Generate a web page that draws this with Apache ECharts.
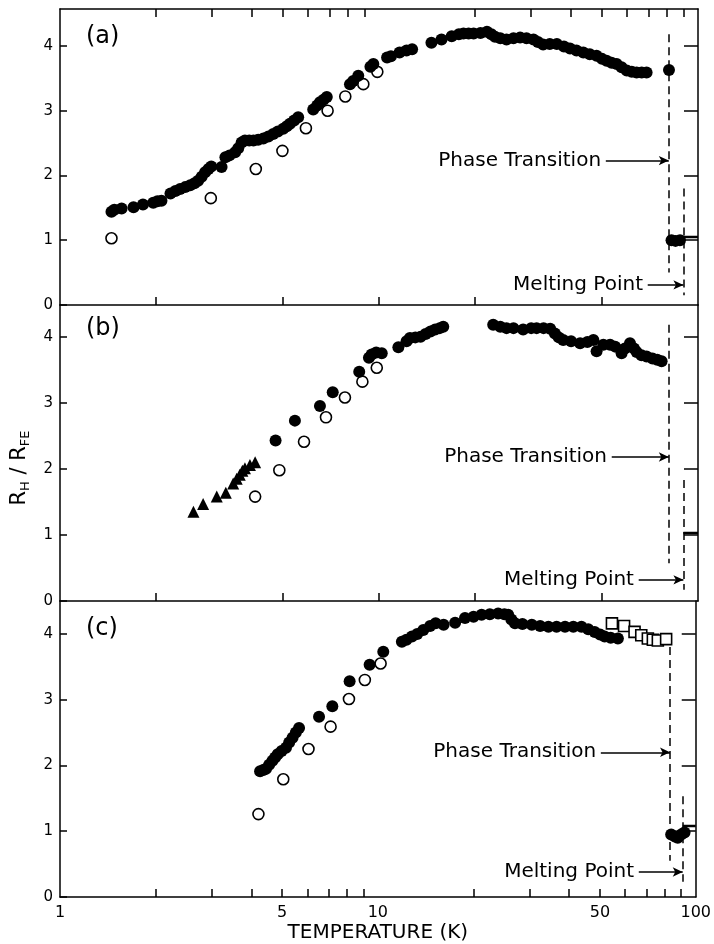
<!DOCTYPE html>
<html>
<head>
<meta charset="utf-8">
<script src="https://cdn.jsdelivr.net/npm/echarts@6/dist/echarts.min.js"></script>
</head>
<body style="margin:0;background:#fff">
<div id="main" style="width:714px;height:944px;"></div>
<script>
// ---- data: [temperature K, R_H/R_FE] ----
var aFilled = [[1.45,1.44],[1.48,1.47],[1.56,1.49],[1.70,1.51],[1.82,1.55],[1.96,1.58],[2.02,1.60],[2.08,1.61],
  [2.22,1.72],[2.30,1.76],[2.38,1.79],[2.47,1.82],[2.56,1.85],[2.64,1.88],[2.71,1.92],[2.78,1.98],[2.85,2.05],[2.92,2.10],[2.98,2.14],
  [3.21,2.13],[3.30,2.28],[3.40,2.31],[3.54,2.36],[3.62,2.42],[3.71,2.51],[3.80,2.54],[3.92,2.54],[4.04,2.54],[4.18,2.55],[4.34,2.57],
  [4.50,2.60],[4.66,2.64],[4.82,2.68],[5.01,2.72],[5.14,2.76],[5.26,2.80],[5.42,2.85],[5.58,2.90],
  [6.22,3.02],[6.40,3.08],[6.53,3.13],[6.70,3.17],[6.86,3.21],
  [8.11,3.41],[8.30,3.46],[8.61,3.54],[9.40,3.68],[9.60,3.72],
  [10.6,3.82],[10.9,3.84],[11.6,3.90],[12.2,3.93],[12.7,3.95],[14.6,4.05],[15.7,4.10],[16.9,4.15],[17.8,4.18],[18.4,4.19],
  [19.1,4.19],[19.8,4.19],[20.8,4.20],[21.8,4.22],[22.5,4.18],[23.1,4.14],[24.0,4.12],[25.1,4.10],[26.4,4.12],[27.7,4.13],
  [29.0,4.12],[30.5,4.10],[31.5,4.06],[32.7,4.02],[34.3,4.03],[36.1,4.03],[38.0,3.99],[39.7,3.96],[41.6,3.93],[43.7,3.90],
  [45.8,3.87],[48.1,3.85],[50.0,3.80],[51.7,3.77],[53.6,3.74],[55.6,3.72],[57.6,3.67],[59.8,3.62],[62.0,3.60],[64.2,3.59],
  [66.6,3.59],[69.0,3.59],[81.1,3.63],[82.6,1.00],[85.0,0.99],[87.8,1.00]];
var aOpen = [[1.45,1.03],[2.97,1.65],[4.11,2.10],[4.98,2.38],[5.90,2.73],[6.90,3.00],[7.84,3.22],[8.93,3.41],[9.88,3.60]];

var bTri = [[2.62,1.35],[2.81,1.47],[3.10,1.58],[3.31,1.64],[3.49,1.78],[3.58,1.85],[3.66,1.91],[3.73,1.97],[3.80,2.01],[3.94,2.06],[4.09,2.10]];
var bFilled = [[4.74,2.43],[5.45,2.73],[6.53,2.95],[7.16,3.16],[8.67,3.47],[9.30,3.68],[9.48,3.73],[9.80,3.76],[10.2,3.75],
  [11.5,3.84],[12.2,3.93],[12.5,3.98],[13.0,3.99],[13.5,4.00],[14.0,4.04],[14.5,4.08],[15.0,4.11],[15.5,4.13],[15.9,4.15],
  [22.8,4.18],[24.0,4.15],[25.1,4.13],[26.4,4.13],[28.3,4.11],[30.0,4.13],[31.2,4.13],[32.8,4.13],[34.4,4.12],[35.6,4.05],
  [36.6,3.99],[37.8,3.95],[40.0,3.93],[42.7,3.90],[45.0,3.92],[47.0,3.95],[48.1,3.78],[50.5,3.88],[53.0,3.88],[55.0,3.85],
  [57.6,3.75],[59.0,3.82],[61.2,3.90],[63.0,3.82],[64.2,3.77],[66.5,3.72],[69.0,3.70],[72.0,3.67],[74.5,3.65],[76.9,3.63]];
var bOpen = [[4.09,1.58],[4.87,1.98],[5.82,2.41],[6.82,2.78],[7.82,3.08],[8.87,3.32],[9.84,3.53]];

var cFilled = [[4.26,1.91],[4.36,1.93],[4.45,1.95],[4.55,2.01],[4.66,2.07],[4.75,2.12],[4.84,2.17],[4.98,2.22],[5.14,2.27],
  [5.26,2.35],[5.39,2.42],[5.52,2.50],[5.65,2.57],[6.53,2.74],[7.19,2.90],[8.15,3.28],[9.42,3.53],[10.4,3.73],
  [11.9,3.88],[12.3,3.91],[12.8,3.96],[13.3,4.00],[13.9,4.06],[14.6,4.12],[15.2,4.16],[16.1,4.14],[17.5,4.17],[18.8,4.24],
  [20.0,4.26],[21.2,4.29],[22.5,4.30],[23.9,4.31],[25.0,4.30],[25.7,4.29],[26.3,4.22],[27.0,4.16],[28.5,4.15],[30.5,4.14],
  [32.4,4.12],[34.4,4.11],[36.5,4.11],[38.8,4.11],[41.2,4.11],[43.7,4.11],[45.9,4.07],[48.1,4.03],[50.0,3.99],[51.7,3.96],
  [54.0,3.94],[56.9,3.93],[83.7,0.95],[86.0,0.92],[87.8,0.90],[90.0,0.95],[92.2,0.98]];
var cSquare = [[54.5,4.16],[59.5,4.12],[64.2,4.03],[67.4,3.98],[70.7,3.93],[73.3,3.91],[76.0,3.90],[80.7,3.92]];
var cOpen = [[4.21,1.26],[5.04,1.79],[6.05,2.25],[7.10,2.59],[8.11,3.01],[9.10,3.30],[10.2,3.55]];

// transitions per panel (a, b, c)
var phaseT = [81, 81, 83];
var meltT = [90, 90, 91];
var liquidLevel = [1.05, 1.03, 1.08];

// axis ticks
var xLabels = [1, 5, 10, 50, 100];
var xMinor = [2,3,4,5,6,7,8,9,20,30,40,50,60,70,80,90];
var xDivider = [2, 5, 10, 20, 50];
var yLabels = [0, 1, 2, 3, 4];

var ink = '#000';
var font = 'DejaVu Sans';

// ---- layout / annotations (not data) ----
var grids = [
  {left: 60, right: 16, top: 9, height: 296},
  {left: 60, right: 16, top: 305, height: 296},
  {left: 60, right: 16, top: 601, height: 297}
];
var yMax = [4.57, 4.48, 4.5];
var phaseSpan = [[4.18, 0.5], [4.18, 0.57], [4.0, 0.55]];
var meltSpan = [[1.8, 0.15], [1.83, 0.17], [1.53, 0.23]];
var phaseText = [[50.4, 2.23], [52.6, 2.18], [49.3, 2.2]];
var meltText = [[68.2, 0.31], [63.9, 0.32], [64.9, 0.38]];

var axisLine = {show: true, onZero: false, lineStyle: {color: ink, width: 1.5}};

function xAxis(gi, pos, ticks, labels, extra) {
  var ax = {
    type: 'log', logBase: 10, min: 1, max: 100, gridIndex: gi, position: pos,
    axisLine: axisLine, splitLine: {show: false}, minorTick: {show: false},
    axisTick: {show: true, inside: true, length: 8, customValues: ticks, lineStyle: {color: ink, width: 1.5}},
    axisLabel: labels ? {show: true, customValues: labels, color: ink, fontSize: 16, fontFamily: font, margin: 8}
                      : {show: false}
  };
  return Object.assign(ax, extra || {});
}

function yAxes(gi) {
  return [{
    type: 'value', min: 0, max: yMax[gi], gridIndex: gi, position: 'left',
    axisLine: axisLine, splitLine: {show: false},
    axisTick: {show: true, inside: true, length: 7, customValues: yLabels, lineStyle: {color: ink, width: 1.5}},
    axisLabel: {show: true, customValues: yLabels, color: ink, fontSize: 15, fontFamily: font, margin: 7}
  }, {
    type: 'value', min: 0, max: yMax[gi], gridIndex: gi, position: 'right',
    axisLine: axisLine, splitLine: {show: false},
    axisTick: {show: true, inside: true, length: 14, customValues: [1, 2, 3, 4], lineStyle: {color: ink, width: 1.5}},
    axisLabel: {show: false}
  }];
}

var xAxes = [
  xAxis(0, 'bottom', xDivider, null),
  xAxis(0, 'top', xMinor, null),
  xAxis(1, 'bottom', xDivider, null),
  xAxis(2, 'bottom', xMinor, xLabels, {
    name: 'TEMPERATURE (K)', nameLocation: 'middle', nameGap: 26,
    nameTextStyle: {color: ink, fontSize: 20, fontFamily: font}
  })
];
var xIdx = [0, 2, 3];

var yList = [].concat(yAxes(0), yAxes(1), yAxes(2));
yList[2].name = '{r|R}{s|H}{r| / R}{s|FE}';
yList[2].nameLocation = 'middle';
yList[2].nameRotate = 90;
yList[2].nameGap = 22;
yList[2].nameTextStyle = {
  color: ink, fontFamily: font, padding: [0, 30, 0, 0],
  rich: {
    r: {fontSize: 21, lineHeight: 26, fontFamily: font, color: ink},
    s: {fontSize: 13, lineHeight: 14, verticalAlign: 'bottom', fontFamily: font, color: ink}
  }
};

function pts(gi, data, symbol, size, hollow) {
  return {
    type: 'scatter', xAxisIndex: xIdx[gi], yAxisIndex: gi * 2, data: data,
    symbol: symbol, symbolSize: size, silent: true, z: 5,
    itemStyle: hollow ? {color: '#fff', borderColor: ink, borderWidth: 1.6, opacity: 1}
                      : {color: ink, opacity: 1}
  };
}

function annotations(gi) {
  var dash = {color: ink, width: 1.5, type: [8, 5]};
  var solid = {color: ink, width: 1.5, type: 'solid'};
  return [{
    type: 'line', xAxisIndex: xIdx[gi], yAxisIndex: gi * 2,
    data: [[meltT[gi], liquidLevel[gi]], [100, liquidLevel[gi]]],
    symbol: 'none', lineStyle: {color: ink, width: 2.5}, silent: true, z: 3,
    markLine: {
      silent: true, animation: false, label: {show: false}, symbol: ['none', 'none'],
      data: [
        [{coord: [phaseT[gi], phaseSpan[gi][0]], lineStyle: dash}, {coord: [phaseT[gi], phaseSpan[gi][1]]}],
        [{coord: [meltT[gi], meltSpan[gi][0]], lineStyle: dash}, {coord: [meltT[gi], meltSpan[gi][1]]}],
        [{coord: [phaseText[gi][0] * 1.02, phaseText[gi][1]], lineStyle: solid},
         {coord: [phaseT[gi], phaseText[gi][1]], symbol: 'arrow', symbolSize: [7, 10]}],
        [{coord: [meltText[gi][0] * 1.02, meltText[gi][1]], lineStyle: solid},
         {coord: [meltT[gi], meltText[gi][1]], symbol: 'arrow', symbolSize: [7, 10]}]
      ]
    }
  }, {
    type: 'scatter', xAxisIndex: xIdx[gi], yAxisIndex: gi * 2, symbolSize: 0, silent: true,
    itemStyle: {opacity: 1},
    data: [{value: phaseText[gi], name: 'Phase Transition'}, {value: meltText[gi], name: 'Melting Point'}],
    label: {show: true, position: 'left', distance: 2, formatter: '{b}', color: ink, fontSize: 20, fontFamily: font}
  }];
}

var series = [].concat(
  annotations(0), annotations(1), annotations(2),
  pts(0, aOpen, 'circle', 11, true), pts(0, aFilled, 'circle', 12),
  pts(1, bOpen, 'circle', 11, true), pts(1, bFilled, 'circle', 12), pts(1, bTri, 'triangle', 12),
  pts(2, cOpen, 'circle', 11, true), pts(2, cFilled, 'circle', 12), pts(2, cSquare, 'rect', 11, true)
);

var panelNames = ['(a)', '(b)', '(c)'];
var panelTops = [25, 317, 617];

var chart = echarts.init(document.getElementById('main'));
chart.setOption({
  backgroundColor: '#fff',
  animation: false,
  grid: grids,
  xAxis: xAxes,
  yAxis: yList,
  series: series,
  graphic: panelNames.map(function (t, i) {
    return {type: 'text', left: 86, top: panelTops[i],
      style: {text: t, font: '24px "DejaVu Sans"', fill: ink}};
  })
});
</script>
</body>
</html>
